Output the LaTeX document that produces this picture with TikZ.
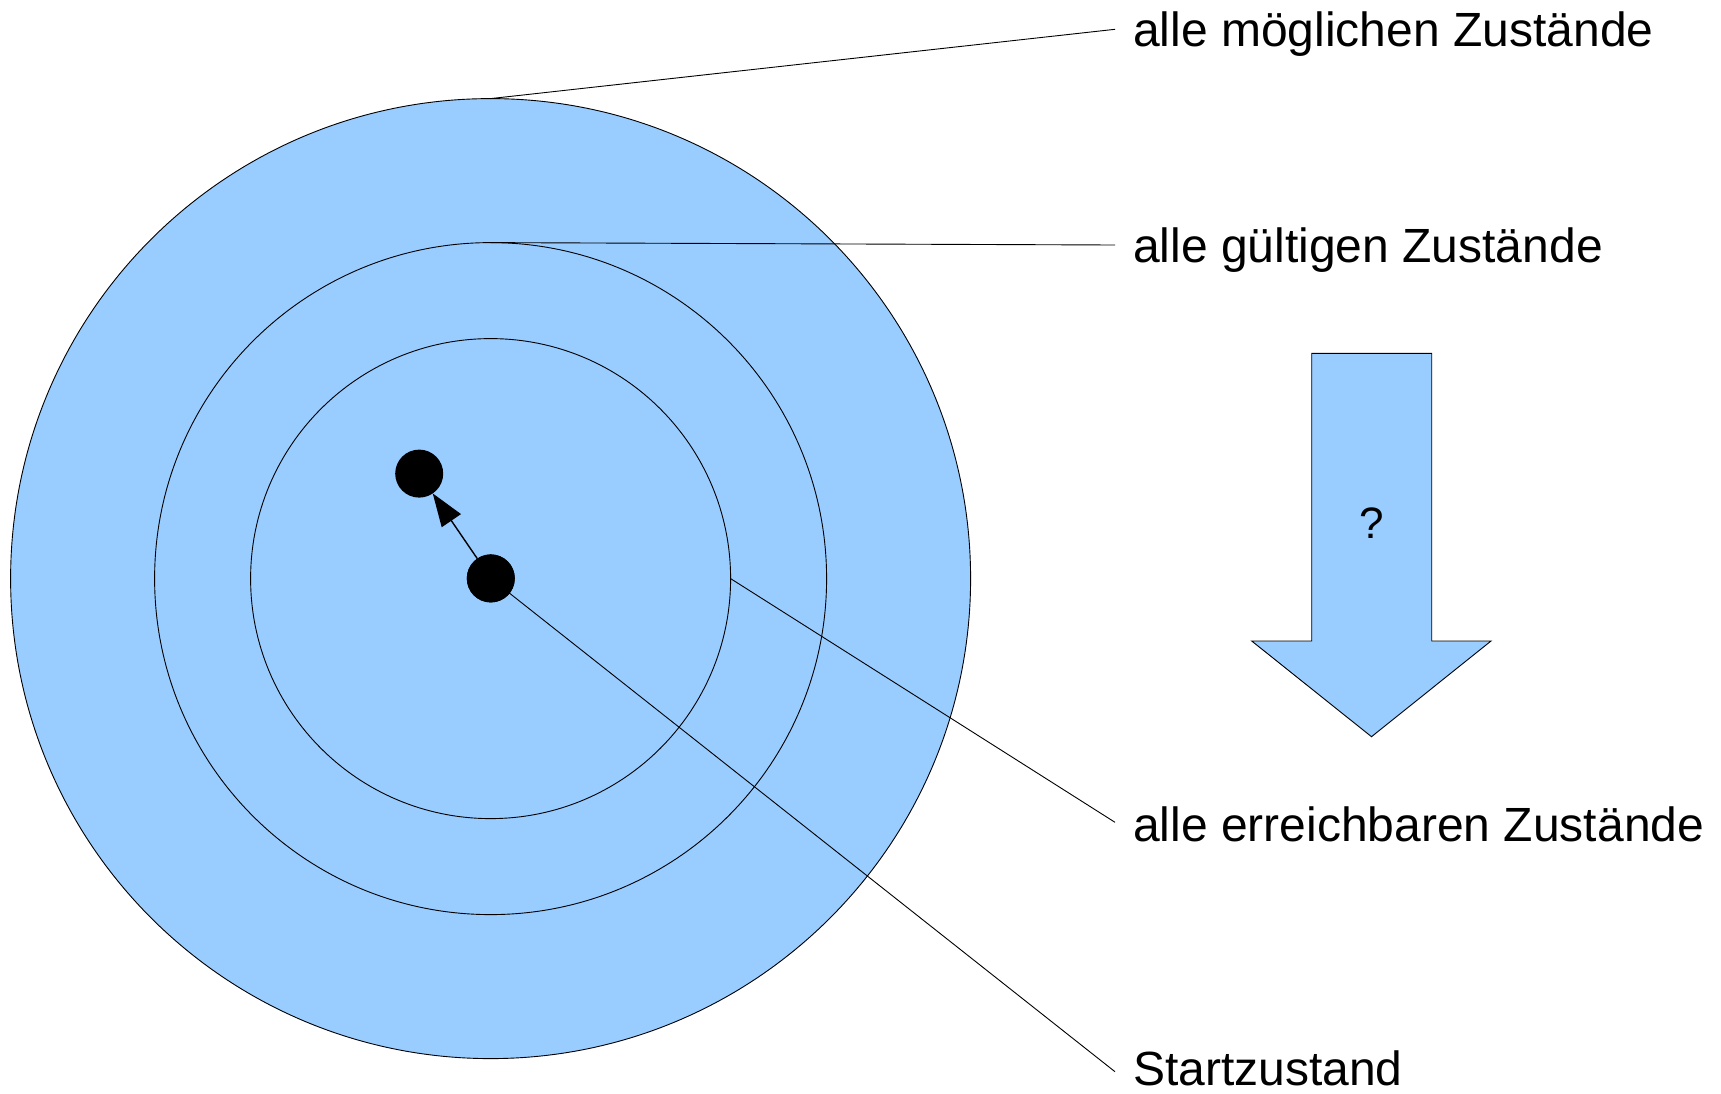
\documentclass[tikz,border=0pt]{standalone}
\usepackage{fontspec}
\setmainfont{Liberation Sans}
\usetikzlibrary{arrows.meta}
\definecolor{setblue}{HTML}{99CCFF}
\begin{document}
\begin{tikzpicture}[x=1pt,y=-1pt,
  setcircle/.style={circle,draw=black,line width=0.9pt,fill=setblue,inner sep=0pt,outer sep=0pt},
  statedot/.style={circle,fill=black,inner sep=0pt,outer sep=0pt,minimum size=48pt},
  leader/.style={draw=black,line width=0.9pt},
  lbl/.style={anchor=base west,inner sep=0pt,font=\fontsize{48}{57}\selectfont},
  bigarrow/.style={draw=black,line width=0.9pt,fill=setblue}]
\useasboundingbox (0,0) rectangle (1721,1093);
% circles
\node[setcircle,minimum size=960pt] (outer) at (490.6,578.6) {};
\node[setcircle,minimum size=672pt] (middle) at (490.6,578.6) {};
\node[setcircle,minimum size=480pt] (inner) at (490.6,578.6) {};
% state dots
\node[statedot] (start) at (490.8,578.4) {};
\node[statedot] (next) at (419.2,473.6) {};
% labels
\node[lbl] (lmog) at (1133,46.5) {alle möglichen Zustände};
\node[lbl] (lgue) at (1133,262.5) {alle gültigen Zustände};
\node[lbl] (lerr) at (1133,841.5) {alle erreichbaren Zustände};
\node[lbl] (lsta) at (1133,1085) {Startzustand};
\coordinate (emog) at (1115,29.3);
\coordinate (egue) at (1115,245);
\coordinate (eerr) at (1115,822.3);
\coordinate (esta) at (1115,1071.7);
% leader lines
\draw[leader] (outer.north) -- (emog);
\draw[leader] (middle.north) -- (egue);
\draw[leader] (inner.east) -- (eerr);
\draw[leader] (start.center) -- (esta);
% redraw dots over leader
\node[statedot] at (start) {};
% transition arrow
\draw[line width=1.4pt,-{Triangle[length=33pt,width=23pt]}] (start) -- (next);
% big down arrow
\draw[bigarrow] (1311.7,353.3) -- (1431.7,353.3) -- (1431.7,641) -- (1491,641)
  -- (1371.5,736.7) -- (1251.7,641) -- (1311.7,641) -- cycle;
\node[font=\fontsize{44}{52}\selectfont,inner sep=0pt] (q) at (1371.7,523) {?};
\end{tikzpicture}
\end{document}
